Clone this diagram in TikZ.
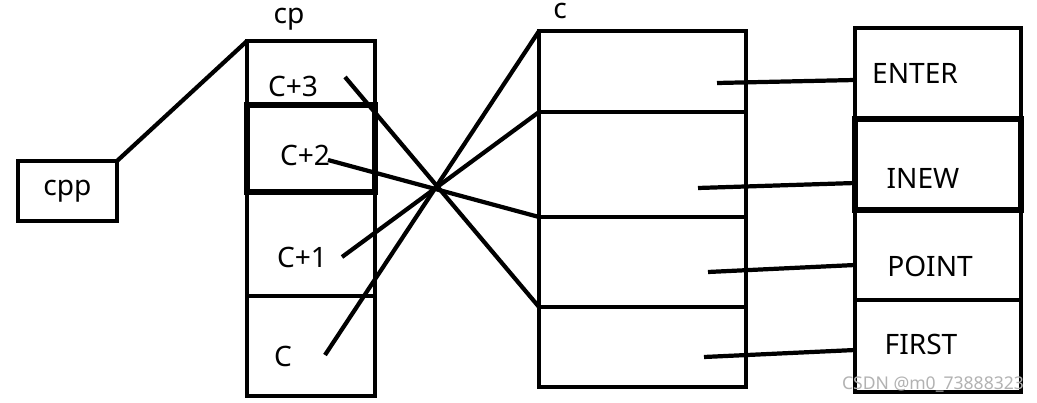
\documentclass[tikz,border=0pt]{standalone}
\usepackage{fontspec}
\setmainfont{Noto Sans}
\usetikzlibrary{positioning,shapes}
\tikzstyle{line} = [line width=2.4pt]
\tikzstyle{cell} = [draw, line width=2.4pt, rectangle, inner sep=0pt, outer sep=0pt]
\tikzstyle{txt} = [font=\fontsize{16}{19}\selectfont, inner sep=0pt]

\begin{document}
\begin{tikzpicture}[x=0.02cm, y=-0.02cm]
    \useasboundingbox (0,0) rectangle (1037,402);
    % cpp box
    \node [cell, minimum width=1.98cm, minimum height=1.2cm, txt] (cpp) at (67.5,191) {cpp};
    % cp column
    \node [cell, minimum width=2.56cm, minimum height=1.28cm] (cp3) at (311,73) {};
    \node [cell, line width=3.4pt, minimum width=2.56cm, minimum height=1.74cm] (cp2) at (311,148.5) {};
    \node [cell, minimum width=2.56cm, minimum height=2.08cm] (cp1) at (311,244) {};
    \node [cell, minimum width=2.56cm, minimum height=2cm] (cp0) at (311,346) {};
    \node [txt] (cplbl) at (289,19) {cp};
    \node [txt] (l3) at (293,86) {C+3};
    \node [txt] (l2) at (305,155) {C+2};
    \node [txt] (l1) at (302,257) {C+1};
    \node [txt] (l0) at (283,356) {C};
    % c column
    \node [cell, minimum width=4.14cm, minimum height=1.62cm] (r1) at (642.5,71.5) {};
    \node [cell, minimum width=4.14cm, minimum height=2.1cm] (r2) at (642.5,164.5) {};
    \node [cell, minimum width=4.14cm, minimum height=1.8cm] (r3) at (642.5,262) {};
    \node [cell, minimum width=4.14cm, minimum height=1.6cm] (r4) at (642.5,347) {};
    \node [txt] (clbl) at (560,11) {c};
    % names
    \node [cell, minimum width=3.32cm, minimum height=1.82cm] (enter) at (938,73.5) {};
    \node [cell, line width=3.4pt, minimum width=3.32cm, minimum height=1.82cm] (inew) at (938,164.5) {};
    \node [cell, minimum width=3.32cm, minimum height=1.8cm] (point) at (938,255) {};
    \node [cell, minimum width=3.32cm, minimum height=1.84cm] (first) at (938,346) {};
    \node [txt] at (915,73) {ENTER};
    \node [txt] at (923,178) {INEW};
    \node [txt] at (930,266) {POINT};
    \node [txt] at (921,344) {FIRST};
    \node [font=\fontsize{10}{12}\selectfont, text=black!30, inner sep=0pt] (wm) at (933,384) {CSDN @m0\_73888323};

    \coordinate (s3) at (345,77);
    \coordinate (s2) at (328,160);
    \coordinate (s1) at (342,257);
    \coordinate (s0) at (325,355);
    \coordinate (t1) at (717,83);
    \coordinate (t2) at (698,188);
    \coordinate (t3) at (708,272);
    \coordinate (t4) at (704,357);

    \draw [line] (cpp.north east) -- (cp3.north west);
    \draw [line] (s3) -- (r4.north west);
    \draw [line] (s2) -- (r3.north west);
    \draw [line] (s1) -- (r2.north west);
    \draw [line] (s0) -- (r1.north west);
    \draw [line] (t1) -- ([yshift=-0.13cm]enter.west);
    \draw [line] (t2) -- ([yshift=-0.37cm]inew.west);
    \draw [line] (t3) -- ([yshift=-0.2cm]point.west);
    \draw [line] (t4) -- ([yshift=-0.08cm]first.west);
\end{tikzpicture}
\end{document}
